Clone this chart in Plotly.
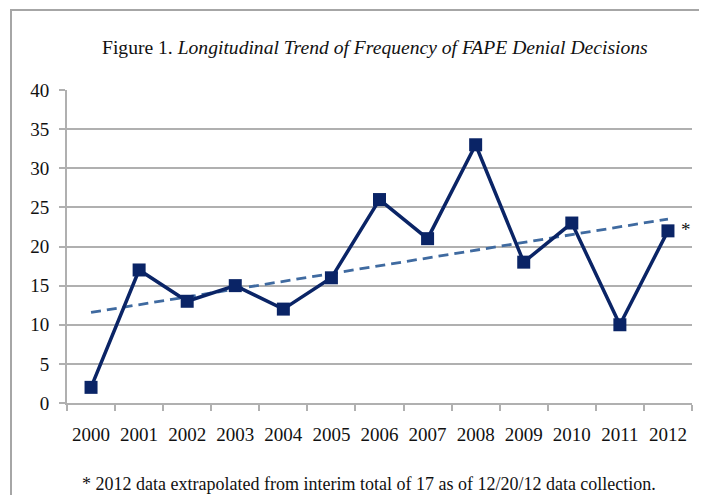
import numpy as np
import plotly.graph_objects as go

years = ["2000", "2001", "2002", "2003", "2004", "2005", "2006",
         "2007", "2008", "2009", "2010", "2011", "2012"]
decisions = [2, 17, 13, 15, 12, 16, 26, 21, 33, 18, 23, 10, 22]
y_ticks = [0, 5, 10, 15, 20, 25, 30, 35, 40]

idx = np.arange(len(years))
slope, intercept = np.polyfit(idx, decisions, 1)
trend = list(intercept + slope * idx)

FONT = "Liberation Serif, Times New Roman, serif"
NAVY = "#0a2466"
TREND = "#3f6aa0"
GRID = "#b0b0b0"

fig = go.Figure()
fig.add_trace(go.Scatter(
    x=years, y=trend, mode="lines",
    line=dict(color=TREND, width=2.8, dash="10px,6px"),
    hoverinfo="skip", showlegend=False))
fig.add_trace(go.Scatter(
    x=years, y=decisions, mode="lines+markers",
    line=dict(color=NAVY, width=3.5),
    marker=dict(symbol="square", size=13, color=NAVY),
    showlegend=False))

# page offset (body margin) compensation
OFF = 8
W, H = 707 - OFF, 495 - OFF
L, R, T, B = 67 - OFF, W - (692 - OFF), 90 - OFF, H - (403 - OFF)
pw, ph = W - L - R, H - T - B

def px(x):
    return (x - OFF - L) / pw

def py(y):
    return (H - B - (y - OFF)) / ph

fig.add_shape(type="rect", xref="paper", yref="paper",
              x0=px(11), x1=px(760), y0=py(10), y1=py(560),
              line=dict(color="#a6a6a6", width=2), fillcolor="rgba(0,0,0,0)",
              layer="below")

fig.add_annotation(xref="paper", yref="paper", x=px(375), y=py(47),
                   text="Figure 1. <i>Longitudinal Trend of Frequency of FAPE Denial Decisions</i>",
                   showarrow=False, font=dict(family=FONT, size=19.6, color="#111111"),
                   xanchor="center", yanchor="middle")
fig.add_annotation(xref="paper", yref="y", x=px(686), y=22.2,
                   text="*", showarrow=False,
                   font=dict(family=FONT, size=19, color="#111111"),
                   xanchor="center", yanchor="middle")
fig.add_annotation(xref="paper", yref="paper", x=px(368.5), y=py(484),
                   text="* 2012 data extrapolated from interim total of 17 as of 12/20/12 data collection.",
                   showarrow=False, font=dict(family=FONT, size=18, color="#111111"),
                   xanchor="center", yanchor="middle")

fig.update_layout(
    width=W, height=H,
    margin=dict(l=L, r=R, t=T, b=B, autoexpand=False),
    paper_bgcolor="white", plot_bgcolor="white",
    font=dict(family=FONT, size=19, color="#111111"),
)
fig.update_xaxes(
    type="category", range=[-0.5, 12.5], tickson="boundaries",
    showgrid=False, showline=True, linecolor=GRID, linewidth=2,
    ticks="outside", ticklen=6, tickcolor=GRID, tickwidth=2, tickangle=0,
    tickfont=dict(family=FONT, size=19, color="#111111"), zeroline=False,
    automargin=False, ticklabelstandoff=13,
)
fig.update_yaxes(
    range=[0, 40], tickvals=y_ticks, showgrid=True, gridcolor=GRID, gridwidth=2,
    showline=True, linecolor=GRID, linewidth=2,
    ticks="outside", ticklen=6, tickcolor=GRID, tickwidth=2,
    tickfont=dict(family=FONT, size=19, color="#111111"), zeroline=False,
    automargin=False, ticklabelstandoff=6,
)

fig.write_html("out.html")
